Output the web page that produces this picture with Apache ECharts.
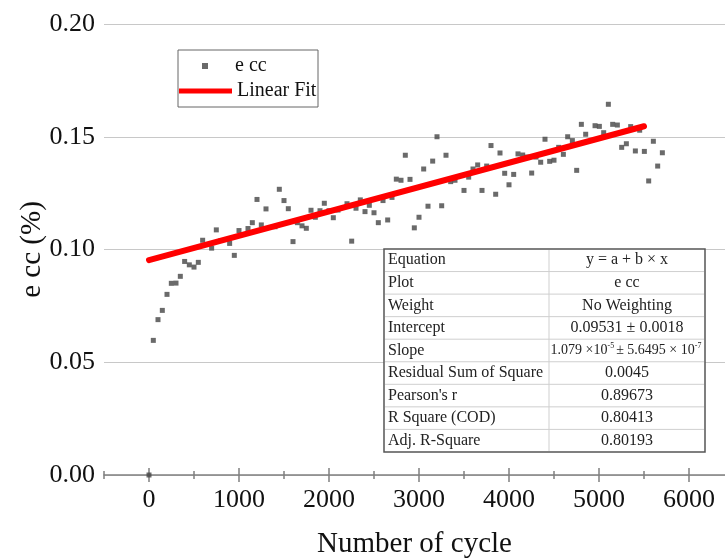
<!DOCTYPE html>
<html><head><meta charset="utf-8">
<script src="https://cdn.jsdelivr.net/npm/echarts@6/dist/echarts.min.js"></script>
<style>html,body{margin:0;padding:0;background:#fff}#c{width:725px;height:559px}</style>
</head><body><div id="c"></div>
<script>
// ---- data ----
const cycles = [0,48,100,148,200,248,300,348,396,448,500,548,596,696,748,800,896,948,1000,1100,1148,1200,1248,1300,1400,1448,1500,1548,1600,1648,1700,1748,1800,1848,1900,1948,2000,2048,2100,2200,2252,2300,2348,2400,2448,2500,2548,2600,2652,2700,2748,2800,2848,2900,2948,3000,3052,3100,3152,3200,3252,3300,3352,3400,3500,3552,3600,3652,3700,3752,3800,3852,3900,3952,4000,4052,4100,4152,4200,4252,4300,4352,4400,4452,4500,4552,4604,4652,4704,4752,4804,4852,4956,5004,5052,5104,5152,5204,5252,5304,5352,5404,5452,5504,5552,5604,5652,5704];
const ecc = [0,0.0597,0.0689,0.0730,0.0801,0.0850,0.0851,0.0881,0.0947,0.0932,0.0922,0.0943,0.1041,0.1006,0.1087,0.1040,0.1027,0.0974,0.1084,0.1093,0.1119,0.1222,0.1109,0.1180,0.1101,0.1267,0.1217,0.1181,0.1035,0.1119,0.1105,0.1094,0.1174,0.1143,0.1172,0.1205,0.1172,0.1141,0.1175,0.1203,0.1037,0.1183,0.1220,0.1168,0.1196,0.1163,0.1119,0.1217,0.1131,0.1231,0.1312,0.1307,0.1418,0.1311,0.1096,0.1143,0.1357,0.1192,0.1392,0.1500,0.1194,0.1418,0.1301,0.1307,0.1262,0.1321,0.1357,0.1375,0.1262,0.1370,0.1461,0.1245,0.1428,0.1338,0.1287,0.1333,0.1424,0.1419,0.1410,0.1339,0.1410,0.1387,0.1489,0.1391,0.1396,0.1453,0.1422,0.1500,0.1483,0.1351,0.1555,0.1511,0.1549,0.1546,0.1518,0.1644,0.1555,0.1552,0.1453,0.1469,0.1545,0.1437,0.1529,0.1435,0.1304,0.1480,0.1370,0.1429];
const fitIntercept = 0.09531;
const fitSlope = 1.079e-5;
const fitRange = [0, 5500];
const xMajorTicks = [0,1000,2000,3000,4000,5000,6000];
const xMinorTicks = [-500,500,1500,2500,3500,4500,5500];
const tableLabels = ['Equation','Plot','Weight','Intercept','Slope','Residual Sum of Square',"Pearson's r",'R Square (COD)','Adj. R-Square'];
const tableValues = ['y = a + b \u00d7 x','e cc','No Weighting','0.09531 \u00b1 0.0018','{n|1.079 \u00d710}{s|-5}{n|\u00b1 5.6495 \u00d7 10}{s|-7}','0.0045','0.89673','0.80413','0.80193'];

// ---- chart ----
const FONT = '"Liberation Serif", "Times New Roman", serif';
const scatterData = cycles.map((c, i) => [c, ecc[i]]);
const fitData = fitRange.map(x => [x, fitIntercept + fitSlope * x]);

const chart = echarts.init(document.getElementById('c'), null, {renderer: 'canvas'});

function tickAxis(values, len, inside) {
  return {
    type: 'value', position: 'bottom', gridIndex: 0, min: -500, max: 6400,
    axisLine: {show: false}, splitLine: {show: false},
    axisLabel: {show: false},
    axisTick: {show: true, customValues: values, length: len, inside: inside,
      lineStyle: {color: '#808080', width: 1.5}}
  };
}

// table geometry (annotation, pixel space)
const T = {x: 384, y: 249, w: 321, rowH: 22.55, col: 549};
const graphics = [];
graphics.push({type: 'rect', z: 10, shape: {x: 178, y: 50, width: 140, height: 57},
  style: {fill: '#fff', stroke: '#666', lineWidth: 1}});
graphics.push({type: 'rect', z: 10, shape: {x: T.x, y: T.y, width: T.w, height: T.rowH * tableLabels.length},
  style: {fill: '#fff', stroke: '#555', lineWidth: 1.5}});
for (let i = 1; i < tableLabels.length; i++) {
  graphics.push({type: 'line', z: 11, shape: {x1: T.x + 1, y1: T.y + T.rowH * i, x2: T.x + T.w - 1, y2: T.y + T.rowH * i},
    style: {stroke: '#cfcfcf', lineWidth: 1}});
}
graphics.push({type: 'line', z: 11, shape: {x1: T.col, y1: T.y + 1, x2: T.col, y2: T.y + T.rowH * tableLabels.length - 1},
  style: {stroke: '#cfcfcf', lineWidth: 1}});
tableLabels.forEach((lab, i) => {
  const cy = T.y + T.rowH * (i + 0.5);
  graphics.push({type: 'text', z: 12, style: {text: lab, x: T.x + 4, y: cy, font: '16px ' + FONT, fill: '#222',
    textAlign: 'left', textVerticalAlign: 'middle', align: 'left', verticalAlign: 'middle'}});
  const isRich = tableValues[i].indexOf('{n|') === 0;
  const st = {text: tableValues[i], x: (T.col + T.x + T.w) / 2, y: cy, font: '16px ' + FONT, fill: '#222',
    textAlign: 'center', textVerticalAlign: 'middle', align: 'center', verticalAlign: 'middle'};
  if (isRich) {
    st.font = '14px ' + FONT;
    st.rich = {
      n: {fontSize: 14, fontFamily: FONT, fill: '#222', color: '#222', lineHeight: 18},
      s: {fontSize: 8, fontFamily: FONT, fill: '#222', color: '#222', lineHeight: 18, verticalAlign: 'top', padding: [0, 2, 8, 0]}
    };
  }
  graphics.push({type: 'text', z: 12, style: st});
});

const option = {
  animation: false,
  backgroundColor: '#fff',
  textStyle: {fontFamily: FONT, color: '#111'},
  grid: {left: 104, right: 0, top: 24, bottom: 84, containLabel: false, outerBoundsMode: 'none'},
  legend: [
    {data: [{name: 'e cc', icon: 'rect'}], left: 202, top: 56, padding: 0, itemWidth: 6, itemHeight: 6, z: 20,
      textStyle: {fontFamily: FONT, fontSize: 20, color: '#111', padding: [0, 0, 0, 22]}},
    {data: [{name: 'Linear Fit', icon: 'rect'}], left: 179, top: 81, padding: 0, itemWidth: 53, itemHeight: 5, itemGap: 4, z: 20,
      textStyle: {fontFamily: FONT, fontSize: 20, color: '#111'}}
  ],
  xAxis: [
    {
      type: 'value', position: 'bottom', min: -500, max: 6400,
      name: 'Number of cycle', nameLocation: 'middle', nameGap: 55, nameMoveOverlap: false,
      nameTextStyle: {fontFamily: FONT, fontSize: 29, color: '#111'},
      axisLine: {show: true, onZero: false, lineStyle: {color: '#808080', width: 1.5}},
      axisTick: {show: true, customValues: xMajorTicks, length: 7, lineStyle: {color: '#808080', width: 1.5}},
      axisLabel: {customValues: xMajorTicks, fontFamily: FONT, fontSize: 26, color: '#111', margin: 12,
        formatter: v => String(Math.round(v))},
      splitLine: {show: false}
    },
    tickAxis(xMajorTicks, 7, true),
    tickAxis(xMinorTicks, 4, false),
    tickAxis(xMinorTicks, 4, true)
  ],
  yAxis: {
    type: 'value', min: 0, max: 0.2, interval: 0.05,
    name: 'e cc (%)', nameLocation: 'middle', nameGap: 57, nameRotate: 90, nameMoveOverlap: false,
    nameTextStyle: {fontFamily: FONT, fontSize: 29, color: '#111'},
    axisLine: {show: false}, axisTick: {show: false},
    axisLabel: {fontFamily: FONT, fontSize: 26, color: '#111', margin: 9, formatter: v => v.toFixed(2)},
    splitLine: {show: true, lineStyle: {color: '#c8c8c8', width: 1.2}}
  },
  series: [
    {name: 'e cc', type: 'scatter', xAxisIndex: 0, symbol: 'rect', symbolSize: 5,
      itemStyle: {color: '#454545'}, data: scatterData, z: 2},
    {name: 'Linear Fit', type: 'line', xAxisIndex: 0, showSymbol: false, symbol: 'none',
      lineStyle: {color: '#ff0000', width: 6, cap: 'round'}, itemStyle: {color: '#ff0000'},
      data: fitData, z: 3}
  ],
  graphic: graphics
};
chart.setOption(option);
</script>
</body></html>
